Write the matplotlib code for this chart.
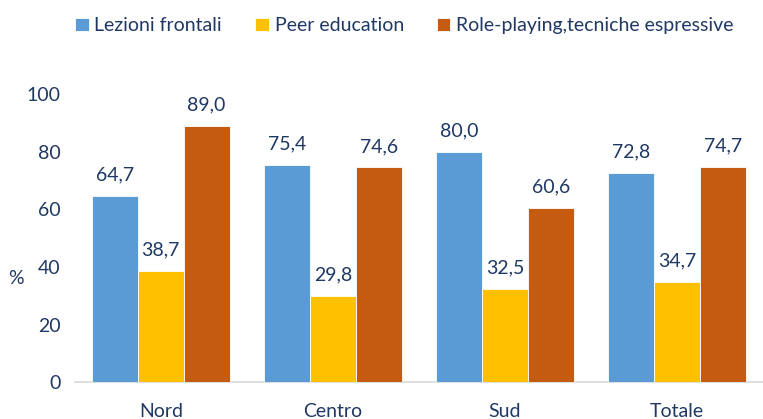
import numpy as np
import matplotlib.pyplot as plt

plt.rcParams['font.family'] = ['Lato', 'DejaVu Sans']

areas = ['Nord', 'Centro', 'Sud', 'Totale']
series = ['Lezioni frontali', 'Peer education', 'Role-playing,tecniche espressive']
lezioni = [64.7, 75.4, 80.0, 72.8]
peer = [38.7, 29.8, 32.5, 34.7]
role = [89.0, 74.6, 60.6, 74.7]
colors = ['#5B9BD5', '#FFC000', '#C55A11']
text_color = '#1F3864'

fig = plt.figure(figsize=(7.63, 4.19), dpi=100)
ax = fig.add_axes([0.098, 0.088, 0.902, 0.687])

x = np.arange(len(areas))
width = 0.8 / 3
for i, (name, vals) in enumerate(zip(series, [lezioni, peer, role])):
    bars = ax.bar(x + (i - 1) * width, vals, width, color=colors[i], label=name,
                  edgecolor='white', linewidth=0.6, zorder=3)
    ax.bar_label(bars, labels=[f'{v:.1f}'.replace('.', ',') for v in vals],
                 padding=9, fontsize=14, color=text_color)

ax.set_xlim(-0.5, 3.5)
ax.set_ylim(0, 100)
ax.set_yticks(range(0, 101, 20))
ax.set_xticks(x, labels=areas)
ax.tick_params(length=0, labelsize=14, labelcolor=text_color)
ax.tick_params(axis='x', pad=15)
ax.tick_params(axis='y', pad=10)
for side in ['top', 'right', 'left']:
    ax.spines[side].set_visible(False)
ax.spines['bottom'].set_color('#D9D9D9')
ax.spines['bottom'].set_linewidth(1.2)

ax.set_ylabel('%', rotation=0, fontsize=14, color=text_color)
ax.yaxis.set_label_coords(-0.085, 0.33)

fig.legend(loc='center', bbox_to_anchor=(0.53, 0.938), ncol=3, frameon=False,
           fontsize=14, labelcolor=text_color, handlelength=0.7, handleheight=0.7,
           handletextpad=0.3, columnspacing=1.7)

plt.savefig('out.png', dpi=100)
